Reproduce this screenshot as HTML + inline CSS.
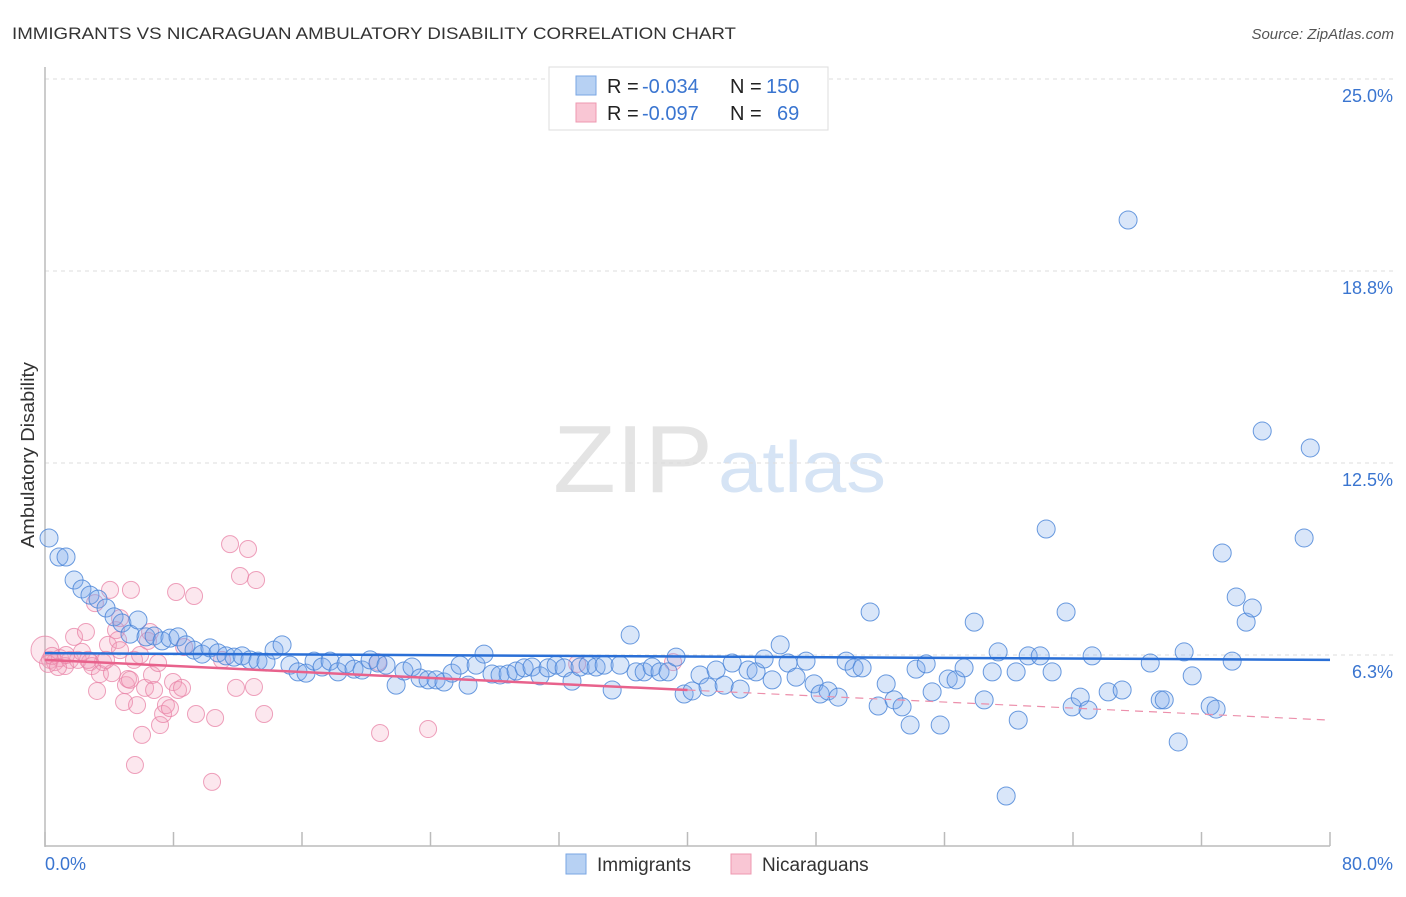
<!DOCTYPE html>
<html><head><meta charset="utf-8">
<style>
body{margin:0;background:#fff;font-family:"Liberation Sans",sans-serif;}
svg text{font-family:"Liberation Sans",sans-serif;}
</style></head>
<body>
<svg id="chart" width="1406" height="892" viewBox="0 0 1406 892" xmlns="http://www.w3.org/2000/svg">
<text x="12" y="39" font-size="17" fill="#333" textLength="724" lengthAdjust="spacingAndGlyphs">IMMIGRANTS VS NICARAGUAN AMBULATORY DISABILITY CORRELATION CHART</text>
<text x="1394" y="39" font-size="15" fill="#555" font-style="italic" text-anchor="end">Source: ZipAtlas.com</text>
<g>
<text x="553" y="492" font-size="96" fill="#e4e4e4" font-family="Liberation Serif,serif" textLength="160" lengthAdjust="spacingAndGlyphs">ZIP</text>
<text x="718" y="492" font-size="72" fill="#d6e4f5" textLength="168" lengthAdjust="spacingAndGlyphs">atlas</text>
</g>
<g id="grid"></g>
<g id="axes"></g>
<g id="pinkPts"></g>
<g id="bluePts"></g>
<g id="trends"></g>
<text transform="translate(34,455) rotate(-90)" font-size="18" fill="#333" text-anchor="middle" textLength="186" lengthAdjust="spacingAndGlyphs">Ambulatory Disability</text>
<text x="45" y="870" font-size="18" fill="#3a75d0">0.0%</text>
<text x="1393" y="870" font-size="18" fill="#3a75d0" text-anchor="end">80.0%</text>
<g>
<rect x="549" y="67" width="279" height="63" fill="#fff" stroke="#ddd"/>
<rect x="576" y="76" width="20" height="19" fill="#b7d1f3" stroke="#7aa6e3"/>
<rect x="576" y="103" width="20" height="19" fill="#f9c6d4" stroke="#ee98b0"/>
<text x="607" y="93" font-size="20" fill="#222">R =</text>
<text x="642" y="93" font-size="20" fill="#3a75d0">-0.034</text>
<text x="730" y="93" font-size="20" fill="#222">N =</text>
<text x="766" y="93" font-size="20" fill="#3a75d0">150</text>
<text x="607" y="120" font-size="20" fill="#222">R =</text>
<text x="642" y="120" font-size="20" fill="#3a75d0">-0.097</text>
<text x="730" y="120" font-size="20" fill="#222">N =</text>
<text x="777" y="120" font-size="20" fill="#3a75d0">69</text>
</g>
<g>
<rect x="566" y="854" width="20" height="20" fill="#b7d1f3" stroke="#7aa6e3"/>
<text x="597" y="871" font-size="19" fill="#333">Immigrants</text>
<rect x="731" y="854" width="20" height="20" fill="#f9c6d4" stroke="#ee98b0"/>
<text x="762" y="871" font-size="19" fill="#333">Nicaraguans</text>
</g>
</svg>
<script>
const yTicks=[6.25,12.5,18.75,25];
const yTickLabels=["6.3%","12.5%","18.8%","25.0%"];
const xTicks=[0,8,16,24,32,40,48,56,64,72,80];
const blueX=[0.25,0.87,1.31,1.81,2.30,2.80,3.30,3.80,4.30,4.79,5.29,5.79,6.29,6.79,7.29,7.78,8.28,8.78,9.28,9.78,10.27,10.77,11.27,11.77,12.27,12.76,13.26,13.76,14.26,14.76,15.25,15.75,16.25,16.75,17.25,17.75,18.24,18.74,19.24,19.74,20.24,20.73,21.23,21.86,22.35,22.85,23.35,23.85,24.35,24.84,25.34,25.84,26.34,26.84,27.33,27.83,28.33,28.83,29.33,29.83,30.32,30.82,31.32,31.82,32.32,32.81,33.31,33.81,34.31,34.81,35.31,35.80,36.43,36.80,37.30,37.80,38.29,38.79,39.29,39.79,40.29,40.78,41.28,41.78,42.28,42.78,43.28,43.77,44.27,44.77,45.27,45.77,46.26,46.76,47.38,47.88,48.26,48.75,49.38,49.88,50.37,50.87,51.37,51.87,52.37,52.86,53.36,53.86,54.23,54.86,55.23,55.73,56.23,56.72,57.22,57.85,58.47,58.97,59.34,59.84,60.46,60.59,61.21,61.96,62.33,62.70,63.57,63.95,64.45,64.94,65.19,66.19,67.06,67.43,68.81,69.43,69.68,70.55,70.92,71.42,72.54,72.91,73.29,73.91,74.16,74.78,75.16,75.78,78.39,78.77];
const blueY=[10.06,9.44,9.44,8.69,8.40,8.20,8.07,7.78,7.49,7.29,6.93,7.39,6.84,6.87,6.71,6.80,6.84,6.58,6.41,6.28,6.48,6.32,6.22,6.18,6.22,6.09,6.05,6.02,6.41,6.58,5.92,5.70,5.66,6.05,5.86,6.05,5.70,5.96,5.79,5.76,6.09,5.99,5.92,5.27,5.73,5.86,5.50,5.44,5.44,5.37,5.66,5.92,5.27,5.92,6.28,5.63,5.60,5.63,5.73,5.83,5.86,5.57,5.83,5.92,5.83,5.40,5.86,5.92,5.86,5.92,5.11,5.92,6.90,5.70,5.70,5.86,5.70,5.70,6.18,4.98,5.08,5.60,5.21,5.76,5.27,5.99,5.14,5.76,5.70,6.12,5.44,6.58,5.99,5.53,6.05,5.31,4.98,5.08,4.88,6.05,5.83,5.83,7.65,4.59,5.31,4.79,4.56,3.97,5.79,5.96,5.05,3.97,5.47,5.44,5.83,7.32,4.79,5.70,6.35,1.66,5.70,4.13,6.22,6.22,10.35,5.70,7.65,4.56,4.88,4.46,6.22,5.05,5.11,20.41,5.99,4.79,4.79,3.42,6.35,5.57,4.59,4.49,9.57,6.05,8.14,7.32,7.78,13.54,10.06,12.99];
const pinkX=[0,0.31,0.62,0.93,1.25,1.56,1.81,2.05,2.30,2.55,2.80,2.93,3.11,3.24,3.42,3.61,3.92,4.05,4.17,4.42,4.55,4.67,4.92,5.04,5.17,5.35,5.54,5.73,5.92,6.04,6.23,6.41,6.54,6.66,6.79,7.04,7.16,7.35,7.53,7.78,7.97,8.16,8.28,8.53,8.66,9.28,9.40,10.40,10.59,11.02,11.52,11.89,12.14,12.64,13.01,13.14,13.64,20.86,23.85,33.13,5.60,0.19,0.44,0.81,1.31,2.68,3.80,4.67,5.29,20.73,39.10];
const pinkY=[6.41,6.09,6.02,6.15,5.89,6.09,6.84,6.09,6.35,7.00,6.02,5.89,7.94,5.08,5.63,6.02,6.58,8.37,5.66,7.06,6.74,7.45,4.72,5.27,5.47,8.37,6.09,4.62,6.25,3.65,5.18,6.71,7.00,5.60,5.11,5.99,3.97,4.33,4.62,4.52,5.37,8.30,5.11,5.18,6.51,8.17,4.33,2.12,4.20,6.09,9.86,5.18,8.82,9.70,5.21,8.69,4.33,3.71,3.84,5.96,2.67,5.96,6.22,5.86,6.25,6.09,6.09,6.41,5.44,6.02,6.02];
const blueTrend=[6.31,6.09];
const pinkTrend=[6.09,4.13];
const pinkSolidEnd=40;

const NS="http://www.w3.org/2000/svg";
const X0=45,X1=1330,Y0=847,PXPER=192/6.25;
function sx(v){return X0+(v/80)*(X1-X0);}
function sy(v){return Y0-v*PXPER;}
function mk(tag,attrs,parent){const e=document.createElementNS(NS,tag);for(const k in attrs)e.setAttribute(k,attrs[k]);parent.appendChild(e);return e;}

const grid=document.getElementById('grid');
const gtop=mk('line',{x1:45,x2:1394,y1:79,y2:79,stroke:'#ddd','stroke-dasharray':'4,4'},grid);


yTicks.forEach((t,i)=>{
  const l=mk('line',{x1:45,x2:1394,y1:sy(t),y2:sy(t),stroke:'#ddd','stroke-dasharray':'4,4'},grid);
  
  
  const tx=mk('text',{x:1393,y:sy(t)+23,'font-size':18,fill:'#3a75d0','text-anchor':'end'},grid);
  tx.textContent=yTickLabels[i];
  
  
});
const axes=document.getElementById('axes');
const ya=mk('line',{x1:45,x2:45,y1:67,y2:847,stroke:'#bbb','stroke-width':1.5},axes);


const xa=mk('line',{x1:45,x2:1330,y1:846,y2:846,stroke:'#bbb','stroke-width':1.5},axes);


xTicks.forEach(t=>{
  const l=mk('line',{x1:sx(t),x2:sx(t),y1:832,y2:846,stroke:'#bbb','stroke-width':1.5},axes);
  
  
});

const pg=document.getElementById('pinkPts');
pinkX.forEach((x,i)=>{
  const c=mk('circle',{cx:sx(x),cy:sy(pinkY[i]),r:i===0?14:8.5,fill:'rgba(245,160,188,0.25)',stroke:'rgba(232,130,165,0.75)','stroke-width':1},pg);
  
  
});
const bg=document.getElementById('bluePts');
blueX.forEach((x,i)=>{
  const c=mk('circle',{cx:sx(x),cy:sy(blueY[i]),r:9,fill:'rgba(130,172,235,0.3)',stroke:'rgba(70,130,215,0.8)','stroke-width':1},bg);
  
  
});
const tg=document.getElementById('trends');
function py(x){return pinkTrend[0]+(pinkTrend[1]-pinkTrend[0])*x/80;}
const pd=mk('line',{x1:sx(pinkSolidEnd),y1:sy(py(pinkSolidEnd)),x2:sx(80),y2:sy(pinkTrend[1]),stroke:'#ec8fab','stroke-width':1.2,'stroke-dasharray':'8,6'},tg);


const ps=mk('line',{x1:sx(0),y1:sy(pinkTrend[0]),x2:sx(pinkSolidEnd),y2:sy(py(pinkSolidEnd)),stroke:'#e8628c','stroke-width':2.5},tg);


const bt=mk('line',{x1:sx(0),y1:sy(blueTrend[0]),x2:sx(80),y2:sy(blueTrend[1]),stroke:'#2a6fd6','stroke-width':2.5},tg);


</script>
</body></html>
